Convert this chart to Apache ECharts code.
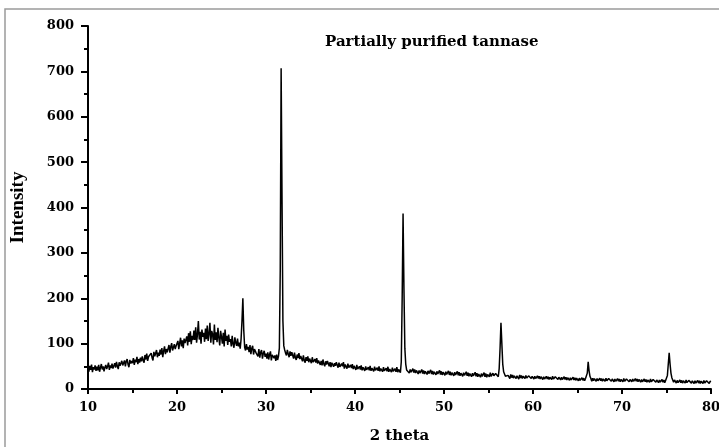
<!DOCTYPE html>
<html>
<head>
<meta charset="utf-8">
<script src="https://cdn.jsdelivr.net/npm/echarts@6/dist/echarts.min.js"></script>
<style>html,body{margin:0;padding:0;background:#fff;}#chart{width:719px;height:447px;}</style>
</head>
<body>
<div id="chart"></div>
<script>
// 2-theta sampling of the scan (degrees)
const twoThetaStart = 10;
const twoThetaStep = 0.1;
// Intensity, one row per degree (x.0 .. x.9)
const intensity = [
45,38,51,42,54,37,48,43,52,40,
49,41,53,38,47,55,43,50,39,48,
53,44,50,58,42,52,46,56,45,51,
57,47,60,50,44,59,51,48,62,52,
53,63,50,61,66,54,48,64,56,62,
57,68,53,65,59,71,55,66,58,69,
61,72,63,58,75,65,78,62,71,73,
67,79,69,63,82,72,68,86,70,80,
73,87,76,90,70,84,94,77,88,81,
84,97,80,93,101,85,82,99,88,95,
93,106,88,101,113,94,107,90,111,101,
103,116,96,123,104,127,99,117,108,129,
108,136,102,121,150,109,126,100,131,115,
124,104,133,110,140,106,122,146,102,128,
121,98,142,108,125,103,135,113,96,128,
115,100,124,94,131,106,117,97,120,104,
110,94,117,99,91,114,102,95,111,94,
102,89,110,150,200,130,92,85,99,87,
93,81,97,77,90,95,76,88,92,79,
83,72,88,69,81,86,67,79,84,71,
78,67,81,65,76,83,63,75,79,68,
74,62,76,64,72,90,260,707,420,150,
95,86,79,74,86,77,70,83,73,81,
78,67,80,69,64,76,68,79,66,73,
71,61,74,63,58,70,62,72,59,67,
67,57,70,59,55,66,58,68,56,63,
63,53,62,52,65,55,50,61,54,62,
60,50,59,48,58,62,49,57,51,59,
57,47,58,49,46,56,50,59,45,54,
54,45,56,47,43,53,46,55,44,51,
51,42,53,44,40,50,43,52,41,48,
49,40,50,42,39,48,41,51,40,46,
48,39,49,41,38,47,40,50,39,45,
47,38,48,40,37,46,39,49,38,44,
46,37,47,39,36,45,38,48,37,43,
45,36,60,200,387,220,90,55,42,39,
44,35,43,37,34,45,36,43,35,41,
42,33,41,35,32,43,34,41,33,39,
41,32,40,34,31,42,33,40,32,38,
40,31,39,33,30,41,32,39,31,37,
39,30,38,32,29,40,31,38,30,36,
38,29,37,31,28,39,30,37,29,35,
37,28,36,30,27,38,29,36,28,34,
36,27,35,29,26,37,28,35,27,33,
35,26,34,28,25,36,27,34,26,32,
34,27,36,28,26,35,29,25,34,30,
32,27,45,90,146,100,55,38,33,28,
31,24,30,26,23,32,25,31,24,29,
30,23,29,25,22,31,24,30,23,28,
29,23,30,24,22,29,26,31,23,28,
29,22,28,23,21,29,23,28,22,27,
28,21,27,22,20,28,22,27,21,26,
27,21,28,22,20,27,24,28,21,26,
27,20,26,21,19,27,21,26,20,25,
26,19,25,20,18,26,20,25,19,24,
25,18,24,19,17,25,19,24,18,23,
24,35,60,40,28,23,17,24,18,23,
24,17,23,18,16,24,18,23,17,22,
23,17,24,18,16,23,20,24,17,22,
23,16,22,17,15,23,17,22,16,21,
22,16,23,17,15,22,19,23,16,21,
23,16,22,17,15,23,17,22,16,21,
22,15,21,16,14,22,16,21,15,20,
21,15,22,16,14,21,18,22,15,20,
21,14,20,15,13,21,15,20,14,19,
20,30,55,80,55,35,25,21,15,20,
20,13,19,14,12,20,14,19,13,18,
19,13,20,14,12,19,16,20,13,18,
19,12,18,13,11,19,13,18,12,17,
18,12,19,13,11,18,15,19,12,17,
16
];
const xTicks = [10, 80, 10];   // min, max, interval
const yTicks = [0, 800, 100];  // min, max, interval
const titleText = 'Partially purified tannase';
const xName = '2 theta';
const yName = 'Intensity';

const points = intensity.map((v, i) => [Math.round((twoThetaStart + i * twoThetaStep) * 10) / 10, v]);

const font = 'DejaVu Serif';
const chart = echarts.init(document.getElementById('chart'), null, {renderer: 'canvas'});
chart.setOption({
  animation: false,
  backgroundColor: '#fff',
  title: {
    text: titleText,
    left: 320, top: 30,
    textStyle: {fontFamily: font, fontWeight: 'bold', fontSize: 15, color: '#000'}
  },
  graphic: [{
    type: 'rect', silent: true,
    shape: {x: 5, y: 9, width: 730, height: 450},
    style: {fill: 'none', stroke: '#9a9a9a', lineWidth: 1.5}
  }],
  grid: {left: 88, right: 8, top: 26, bottom: 58, containLabel: false, outerBoundsMode: 'none'},
  xAxis: {
    type: 'value', min: xTicks[0], max: xTicks[1], interval: xTicks[2],
    name: xName, nameLocation: 'middle', nameGap: 40,
    nameTextStyle: {fontFamily: font, fontWeight: 'bold', fontSize: 15, color: '#000'},
    axisLine: {show: true, onZero: false, lineStyle: {color: '#000', width: 2}},
    axisTick: {show: true, inside: false, length: 5, lineStyle: {color: '#000', width: 2}},
    minorTick: {show: true, splitNumber: 2, length: 4, lineStyle: {color: '#000', width: 2}},
    splitLine: {show: false},
    axisLabel: {fontFamily: font, fontWeight: 'bold', fontSize: 13, color: '#000', margin: 12, showMaxLabel: true}
  },
  yAxis: {
    type: 'value', min: yTicks[0], max: yTicks[1], interval: yTicks[2],
    name: yName, nameLocation: 'middle', nameGap: 60, nameRotate: 90,
    nameTextStyle: {fontFamily: 'Liberation Serif', fontWeight: 'bold', fontSize: 19, color: '#000'},
    axisLine: {show: true, lineStyle: {color: '#000', width: 2}},
    axisTick: {show: true, inside: false, length: 7, lineStyle: {color: '#000', width: 2}},
    minorTick: {show: true, splitNumber: 2, length: 4, lineStyle: {color: '#000', width: 2}},
    splitLine: {show: false},
    axisLabel: {fontFamily: font, fontWeight: 'bold', fontSize: 13, color: '#000', margin: 14}
  },
  series: [{
    type: 'line',
    data: points,
    showSymbol: false,
    symbol: 'none',
    lineStyle: {color: '#000', width: 1.5},
    z: 3
  }]
});
</script>
</body>
</html>
